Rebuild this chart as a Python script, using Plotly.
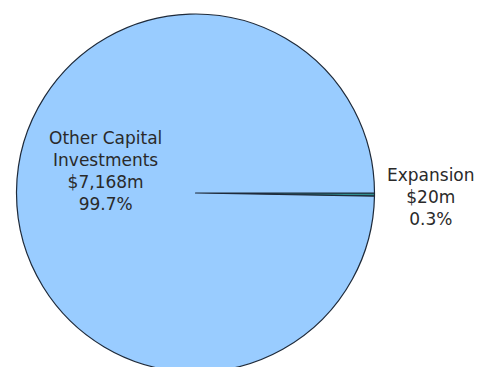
import plotly.graph_objects as go

# Data
categories = ["Expansion", "Other Capital Investments"]
label_lines = ["Expansion", "Other Capital<br>Investments"]
values_m = [20, 7168]
percents = ["0.3%", "99.7%"]
colors = ["#2F8F8F", "#99CCFF"]

W, H = 482, 367
# page body adds an 8px offset; pie centre (187.5, 185) in figure pixels, r=179
cx, cy, r = 187.5, 185, 179

fig = go.Figure(
    go.Pie(
        labels=categories,
        values=values_m,
        sort=False,
        direction="counterclockwise",
        rotation=90,
        marker=dict(colors=colors, line=dict(color="#1E2A3A", width=1.2)),
        textinfo="none",
        hoverinfo="label+value+percent",
        showlegend=False,
        domain=dict(x=[(cx - r) / W, (cx + r) / W],
                    y=[1 - (cy + r) / H, 1 - (cy - r) / H]),
    )
)

label_pos = [(423, 189), (97, 163)]
for lab, v, p, (px, py) in zip(label_lines, values_m, percents, label_pos):
    fig.add_annotation(
        x=px / W, y=1 - py / H, xref="paper", yref="paper",
        text=f"{lab}<br>${v:,}m<br>{p}",
        showarrow=False, xanchor="center", yanchor="middle", align="center",
        font=dict(family="DejaVu Sans", size=17, color="#2a2a2a"),
    )

fig.update_layout(
    width=W, height=H,
    margin=dict(l=0, r=0, t=0, b=0),
    paper_bgcolor="white",
    plot_bgcolor="white",
)

fig.write_html("out.html")
